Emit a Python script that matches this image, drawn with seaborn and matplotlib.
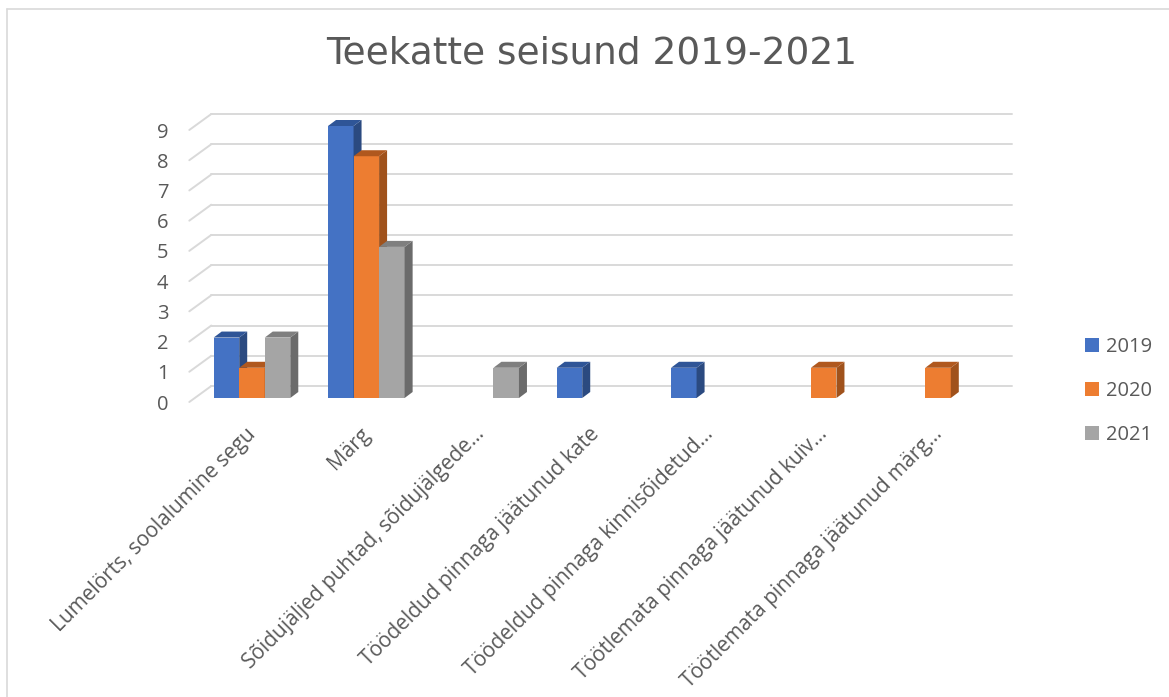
import matplotlib
matplotlib.use("Agg")
import matplotlib.pyplot as plt
import matplotlib.transforms as mtransforms
from matplotlib.patches import Polygon
from matplotlib.lines import Line2D
import seaborn as sns
import pandas as pd

# ---------------- data ----------------
categories = [
    "Lumelörts, soolalumine segu",
    "Märg",
    "Sõidujäljed puhtad, sõidujälgede…",
    "Töödeldud pinnaga jäätunud kate",
    "Töödeldud pinnaga kinnisõidetud…",
    "Töötlemata pinnaga jäätunud kuiv…",
    "Töötlemata pinnaga jäätunud märg…",
]
years = ["2019", "2020", "2021"]
values_2019 = [2, 9, 0, 1, 1, 0, 0]
values_2020 = [1, 8, 0, 0, 0, 1, 1]
values_2021 = [2, 5, 1, 0, 0, 0, 0]
yticks = list(range(0, 10))
title = "Teekatte seisund 2019-2021"

front_colors = ["#4472C4", "#ED7D31", "#A5A5A5"]
side_colors = ["#2B4A80", "#A0521C", "#6B6B6B"]
top_colors = ["#2F5597", "#B0581E", "#7F7F7F"]

df = pd.DataFrame({
    "category": categories * 3,
    "value": values_2019 + values_2020 + values_2021,
    "year": [y for y in years for _ in categories],
})

# ---------------- figure ----------------
sns.set_theme(style="white")
plt.rcParams["font.family"] = ["Open Sans", "DejaVu Sans"]
W, H, DPI = 1169, 697, 100
fig = plt.figure(figsize=(W / DPI, H / DPI), dpi=DPI)

# axes in the plane of the bar front faces
ax_left_px, ax_right_px = 194.8, 995.2
ax_bottom_px, ax_top_px = 398.0, 126.0
ax = fig.add_axes([ax_left_px / W, (H - ax_bottom_px) / H,
                   (ax_right_px - ax_left_px) / W, (ax_bottom_px - ax_top_px) / H])

sns.barplot(data=df, x="category", y="value", hue="year", hue_order=years,
            palette=front_colors, saturation=1, width=0.67, gap=0,
            linewidth=0, ax=ax, zorder=3)

xmin, xmax, ymin, ymax = -0.5, 6.5, 0, 9
ax.set_xlim(xmin, xmax)
ax.set_ylim(ymin, ymax)
px_x = (ax_right_px - ax_left_px) / (xmax - xmin)
px_y = (ax_bottom_px - ax_top_px) / (ymax - ymin)

# pseudo-3D offsets (pixels -> data units)
bar_dx, bar_dy = 8 / px_x, 6 / px_y
back_dx, back_dy = 16.5 / px_x, 12 / px_y
front_dx, front_dy = -5.5 / px_x, -4 / px_y

grid_color = "#D9D9D9"
for v in yticks:
    ax.add_line(Line2D([xmin + back_dx, xmax + back_dx], [v + back_dy, v + back_dy],
                       color=grid_color, lw=1.4, zorder=1, clip_on=False))
    ax.add_line(Line2D([xmin + front_dx, xmin + back_dx], [v + front_dy, v + back_dy],
                       color=grid_color, lw=1.4, zorder=1, clip_on=False))

# side and top faces of bars
for hi, cont in enumerate(ax.containers):
    for bar in cont:
        bar.set_zorder(3 + hi * 0.1)
        bar.set_clip_on(False)
        h = bar.get_height()
        if h <= 0:
            bar.set_visible(False)
            continue
        x0, w = bar.get_x(), bar.get_width()
        side = Polygon([(x0 + w, 0), (x0 + w + bar_dx, bar_dy),
                        (x0 + w + bar_dx, h + bar_dy), (x0 + w, h)],
                       closed=True, facecolor=side_colors[hi], edgecolor="none",
                       zorder=3 + hi * 0.1 + 0.01, clip_on=False)
        top = Polygon([(x0, h), (x0 + w, h), (x0 + w + bar_dx, h + bar_dy),
                       (x0 + bar_dx, h + bar_dy)],
                      closed=True, facecolor=top_colors[hi], edgecolor="none",
                      zorder=3 + hi * 0.1 + 0.02, clip_on=False)
        ax.add_patch(side)
        ax.add_patch(top)

for s in ax.spines.values():
    s.set_visible(False)
ax.set_facecolor("none")
ax.set_xlabel("")
ax.set_ylabel("")
ax.grid(False)

text_color = "#595959"
ax.set_yticks(yticks)
ax.set_yticklabels([str(t) for t in yticks])
ax.tick_params(axis="y", length=0, pad=19, labelsize=14.5, labelcolor=text_color)
for lab in ax.get_yticklabels():
    lab.set_transform(lab.get_transform() +
                      mtransforms.ScaledTranslation(0, -4 / DPI, fig.dpi_scale_trans))

ax.set_xticks(range(len(categories)))
ax.set_xticklabels(categories, rotation=45, ha="right", va="center",
                   rotation_mode="anchor")
ax.tick_params(axis="x", length=0, pad=0, labelsize=15, labelcolor=text_color)
for lab in ax.get_xticklabels():
    lab.set_transform(lab.get_transform() +
                      mtransforms.ScaledTranslation(1 / DPI, -33 / DPI, fig.dpi_scale_trans))

# legend
handles, labels = ax.get_legend_handles_labels()
if ax.get_legend() is not None:
    ax.get_legend().remove()
fig.legend(handles, labels, loc="center left",
           bbox_to_anchor=(1085 / W, (H - 391) / H), frameon=False,
           fontsize=14.5, labelcolor=text_color, handlelength=0.7, handleheight=0.7,
           handletextpad=0.35, labelspacing=1.2, borderpad=0, borderaxespad=0)

# title
fig.text(592 / W, (H - 54) / H, title, ha="center", va="center",
         fontsize=27, color=text_color, family=["DejaVu Sans"])

# chart border
fig.add_artist(Line2D([7 / W, 7 / W], [0, (H - 9) / H], color="#D9D9D9", lw=1.2))
fig.add_artist(Line2D([7 / W, 1], [(H - 9) / H, (H - 9) / H], color="#D9D9D9", lw=1.2))

fig.savefig("out.png", dpi=DPI)
